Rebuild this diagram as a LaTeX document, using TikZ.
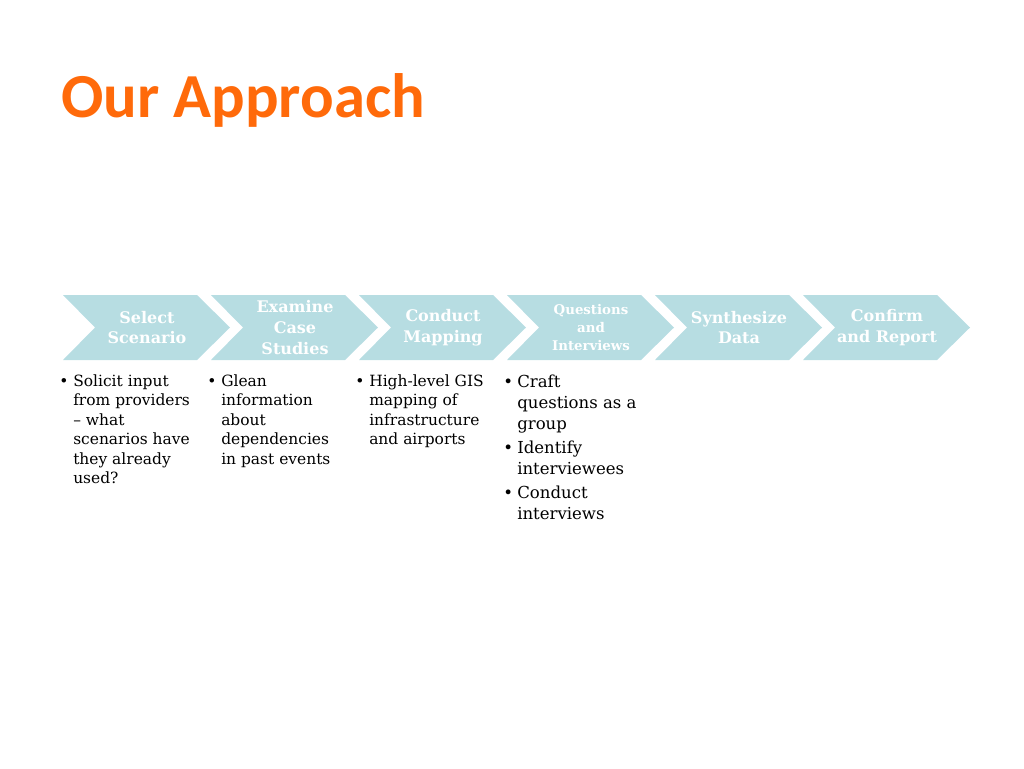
\documentclass[tikz,border=0pt]{standalone}
\usepackage{fontspec}
\setmainfont{DejaVu Serif}
\newfontfamily\titlefont{Carlito}
\definecolor{chevblue}{RGB}{183,221,226}
\definecolor{titleorange}{RGB}{255,106,10}
\begin{document}
\begin{tikzpicture}[x=0.75pt,y=-0.75pt,
  chev/.style={fill=chevblue},
  chevtext/.style={text=white,font=\bfseries\fontsize{12}{15.5}\selectfont,align=center,inner sep=0pt},
  chevsmall/.style={text=white,font=\bfseries\fontsize{10}{13.5}\selectfont,align=center,inner sep=0pt},
  body/.style={anchor=north west,inner sep=0pt,align=left,font=\fontsize{11.6}{14.6}\selectfont},
  bodybig/.style={anchor=north west,inner sep=0pt,align=left,font=\fontsize{12.4}{15.75}\selectfont},
  bul/.style={anchor=base west,inner sep=0pt,font=\fontsize{11.6}{14.6}\selectfont},
  bulbig/.style={anchor=base west,inner sep=0pt,font=\fontsize{12.4}{15.75}\selectfont}]
\useasboundingbox (0,0) rectangle (1024,768);
\node[anchor=base west,inner sep=0pt,text=titleorange,font=\titlefont\bfseries\fontsize{47}{50}\selectfont] (title) at (61,117) {Our Approach};
% chevrons
\foreach \k in {0,...,5}{
  \pgfmathsetmacro{\xa}{63+148*\k}
  \fill[chev] (\xa,295) -- ({\xa+134},295) -- ({\xa+167},327.5) -- ({\xa+134},360) -- (\xa,360) -- ({\xa+32},327.5) -- cycle;
}
\node[chevtext] (c1) at (147,327.5) {Select\\Scenario};
\node[chevtext] (c2) at (295,327.5) {Examine\\Case\\Studies};
\node[chevtext] (c3) at (443,327.5) {Conduct\\Mapping};
\node[chevsmall] (c4) at (591,327.5) {Questions\\and\\Interviews};
\node[chevtext] (c5) at (739,327.5) {Synthesize\\Data};
\node[chevtext] (c6) at (887,327.5) {Confirm\\and Report};
% bullets column 1
\node[bul] (b1) at (59,386) {\textbullet};
\node[body] (t1) at (73,374.2) {Solicit input\\from providers\\– what\\scenarios have\\they already\\used?};
% column 2
\node[bul] (b2) at (207,386) {\textbullet};
\node[body] (t2) at (221,374.2) {Glean\\information\\about\\dependencies\\in past events};
% column 3
\node[bul] (b3) at (355,386) {\textbullet};
\node[body] (t3) at (369,374.2) {High-level GIS\\mapping of\\infrastructure\\and airports};
% column 4
\node[bulbig] (b4a) at (503,387) {\textbullet};
\node[bodybig] (t4a) at (517,374.4) {Craft\\questions as a\\group};
\node[bulbig] (b4b) at (503,453) {\textbullet};
\node[bodybig] (t4b) at (517,440.4) {Identify\\interviewees};
\node[bulbig] (b4c) at (503,498) {\textbullet};
\node[bodybig] (t4c) at (517,485.4) {Conduct\\interviews};
\end{tikzpicture}
\end{document}
